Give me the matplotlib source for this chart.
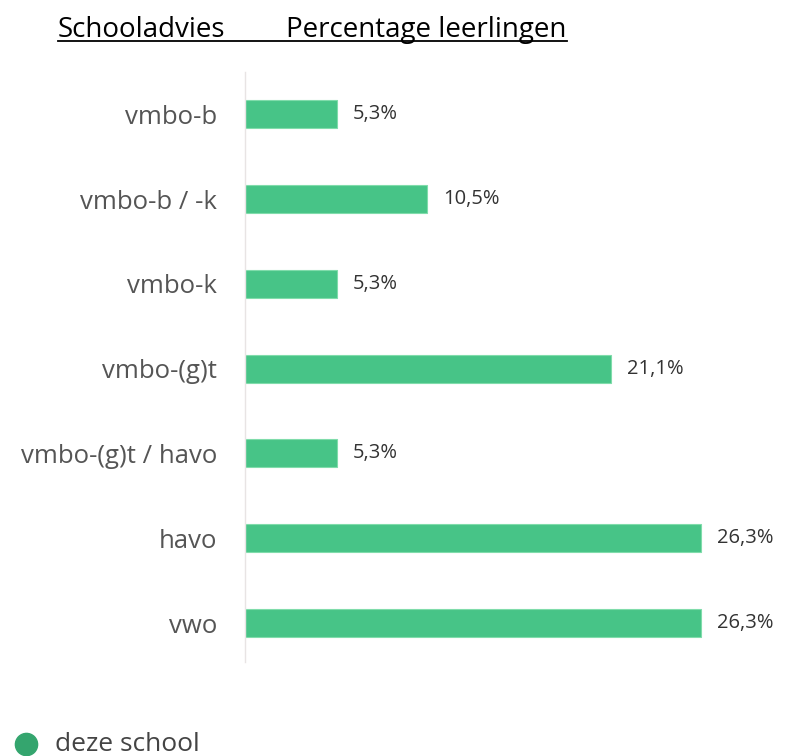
import matplotlib.pyplot as plt
from matplotlib.lines import Line2D

# Data
categories = ['vmbo-b', 'vmbo-b / -k', 'vmbo-k', 'vmbo-(g)t',
              'vmbo-(g)t / havo', 'havo', 'vwo']
percentages = [5.3, 10.5, 5.3, 21.1, 5.3, 26.3, 26.3]
value_labels = ['5,3%', '10,5%', '5,3%', '21,1%', '5,3%', '26,3%', '26,3%']

W, H = 785, 756
fig = plt.figure(figsize=(W / 100, H / 100), dpi=100)
fig.patch.set_facecolor('white')

# axes placed in pixel terms
ax_left, ax_right, ax_top, ax_bottom = 245, 785, 72, 662
ax = fig.add_axes([ax_left / W, 1 - ax_bottom / H,
                   (ax_right - ax_left) / W, (ax_bottom - ax_top) / H])

y = list(range(len(categories)))
ax.barh(y, percentages, height=0.33, color='#47c487',
        edgecolor='#80dcab', linewidth=0.8)

ax.set_xlim(0, 31.14)
ax.set_ylim(6.46, -0.5)

for yi, v, lab in zip(y, percentages, value_labels):
    ax.text(v + 0.9, yi, lab, va='center', ha='left',
            fontsize=14.5, color='#333333', family='Open Sans')

ax.set_yticks(y)
ax.set_yticklabels(categories, fontsize=18.5, color='#555555', family='Open Sans')
ax.tick_params(axis='y', length=0, pad=20)
ax.set_xticks([])

for s in ['top', 'right', 'bottom']:
    ax.spines[s].set_visible(False)
ax.spines['left'].set_color('#e8e4e4')
ax.spines['left'].set_linewidth(1)

# underlined heading
fig.text(58 / W, 1 - 37 / H, 'Schooladvies', fontsize=20, color='black',
         family='Open Sans', ha='left', va='baseline')
fig.text(286 / W, 1 - 37 / H, 'Percentage leerlingen', fontsize=20, color='black',
         family='Open Sans', ha='left', va='baseline')
fig.add_artist(Line2D([58 / W, 567 / W], [1 - 41 / H, 1 - 41 / H],
                      color='black', linewidth=1.3))

# legend
fig.add_artist(Line2D([26 / W], [1 - 744 / H], marker='o', markersize=16,
                      color='#34a56e', linestyle='none'))
fig.text(55 / W, 1 - 751 / H, 'deze school', fontsize=19, color='#444444',
         family='Open Sans', ha='left', va='baseline')

fig.savefig('out.png', dpi=100)
